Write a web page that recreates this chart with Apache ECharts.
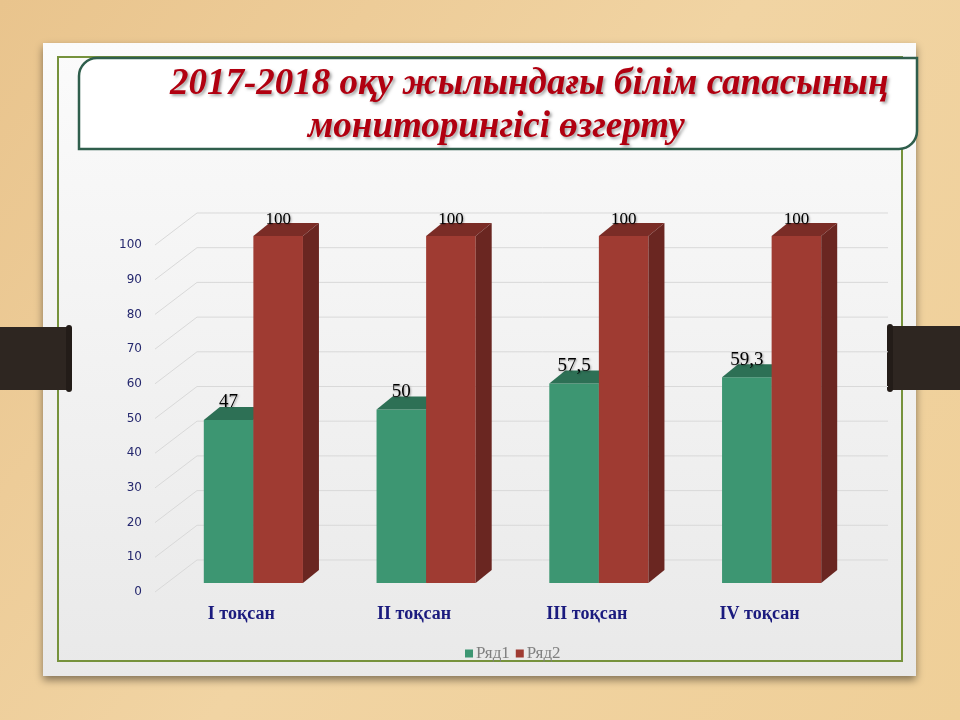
<!DOCTYPE html>
<html>
<head>
<meta charset="utf-8">
<style>
  html, body { margin: 0; padding: 0; }
  #chart { width: 960px; height: 720px; }
</style>
<script src="https://cdn.jsdelivr.net/npm/echarts@6/dist/echarts.min.js"></script>
</head>
<body>
<div id="chart"></div>
<script>
// data
var categories = ['I тоқсан', 'II тоқсан', 'III тоқсан', 'IV тоқсан'];
var seriesNames = ['Ряд1', 'Ряд2'];
var row1 = [47, 50, 57.5, 59.3];
var row2 = [100, 100, 100, 100];
var yTicks = [0, 10, 20, 30, 40, 50, 60, 70, 80, 90, 100];
var titleLines = ['2017-2018 оқу жылындағы білім сапасының', 'мониторингісі өзгерту'];

// 3d look
var wallDX = 42, wallDY = -32;   // back wall offset from front plane
var barDX = 12, barDY = -9;      // bars sit a bit behind the front plane
var depthX = 16, depthY = -13;   // bar depth
var colors = [
    { front: '#3D9672', top: '#2D7055', side: '#2A6A50', label: 19 },
    { front: '#9F3B32', top: '#7A2C26', side: '#6A2621', label: 17 }
];

function fmt(v) {
    return String(v).replace('.', ',');
}

function barRenderer(idx) {
    return function(params, api) {
        var cat = api.value(0), val = api.value(1);
        var band = api.size([1, 0])[0];
        var w = band * 0.287;
        var base = api.coord([cat, 0]);
        var top = api.coord([cat, val]);
        var x0 = base[0] + barDX - w + idx * w;
        var yb = base[1] + barDY;
        var yt = top[1] + barDY;
        var c = colors[idx];
        return {
            type: 'group',
            children: [
                { type: 'rect', shape: { x: x0, y: yt, width: w, height: yb - yt }, style: { fill: c.front } },
                { type: 'polygon', shape: { points: [[x0, yt], [x0 + w, yt], [x0 + w + depthX, yt + depthY], [x0 + depthX, yt + depthY]] }, style: { fill: c.top } },
                { type: 'polygon', shape: { points: [[x0 + w, yt], [x0 + w + depthX, yt + depthY], [x0 + w + depthX, yb + depthY], [x0 + w, yb]] }, style: { fill: c.side } },
                {
                    type: 'text', z2: 10,
                    style: {
                        x: x0 + w / 2, y: yt - 8, text: fmt(val),
                        align: 'center', verticalAlign: 'bottom',
                        font: c.label + 'px "Liberation Serif"', fill: '#000',
                        textShadowColor: 'rgba(0,0,0,0.35)', textShadowBlur: 2, textShadowOffsetX: 1, textShadowOffsetY: 1
                    }
                }
            ]
        };
    };
}

function gridRenderer(params, api) {
    var cs = params.coordSys;
    var y = api.coord([0, api.value(1)])[1];
    return {
        type: 'polyline',
        shape: { points: [[cs.x, y], [cs.x + wallDX, y + wallDY], [cs.x + cs.width + wallDX, y + wallDY]] },
        style: { stroke: '#D9D9D9', lineWidth: 1, fill: 'none' },
        silent: true
    };
}

function pairs(arr) {
    return arr.map(function(v, i) { return [i, v]; });
}

var chart = echarts.init(document.getElementById('chart'));

var titleStyle = {
    align: 'left', verticalAlign: 'middle',
    font: 'italic bold 37px "Liberation Serif"', fill: '#B10010',
    textShadowColor: 'rgba(0,0,0,0.35)', textShadowBlur: 3, textShadowOffsetX: 2, textShadowOffsetY: 2
};

var option = {
    backgroundColor: {
        type: 'linear', x: 0, y: 0, x2: 1, y2: 1,
        colorStops: [
            { offset: 0, color: '#E9C48D' },
            { offset: 0.5, color: '#F1D4A3' },
            { offset: 1, color: '#EFCF98' }
        ]
    },
    graphic: [
        // binder clips
        { type: 'rect', shape: { x: 0, y: 327, width: 70, height: 63 }, style: { fill: '#2E2621' }, z: 1 },
        { type: 'rect', shape: { x: 66, y: 325, width: 6, height: 67, r: 3 }, style: { fill: '#231C18' }, z: 1 },
        { type: 'rect', shape: { x: 890, y: 326, width: 70, height: 64 }, style: { fill: '#2E2621' }, z: 1 },
        { type: 'rect', shape: { x: 887, y: 324, width: 6, height: 68, r: 3 }, style: { fill: '#231C18' }, z: 1 },
        // card
        {
            type: 'rect', z: 0,
            shape: { x: 43, y: 43, width: 873, height: 633 },
            style: {
                fill: { type: 'linear', x: 0, y: 0, x2: 0, y2: 1, colorStops: [{ offset: 0, color: '#FBFBFB' }, { offset: 1, color: '#E9E9E9' }] },
                shadowBlur: 8, shadowOffsetY: 4, shadowColor: 'rgba(0,0,0,0.45)'
            }
        },
        { type: 'rect', z: 0, shape: { x: 58, y: 57, width: 844, height: 604 }, style: { fill: 'none', stroke: '#76923C', lineWidth: 2 } },
        // title box
        { type: 'rect', z: 1, shape: { x: 79, y: 58, width: 838, height: 91, r: [18, 0, 18, 0] }, style: { fill: '#FFFFFF', stroke: '#2F5E4C', lineWidth: 2.5 } },
        { type: 'text', z: 2, style: Object.assign({ x: 170, y: 84, text: titleLines[0] }, titleStyle) },
        { type: 'text', z: 2, style: Object.assign({ x: 308, y: 127, text: titleLines[1] }, titleStyle) }
    ],
    legend: {
        data: seriesNames,
        top: 640,
        left: 460,
        icon: 'rect',
        itemWidth: 8,
        itemHeight: 8,
        itemGap: 6,
        textStyle: { color: '#7F7F7F', fontFamily: 'Liberation Serif', fontSize: 17, padding: [0, 0, 0, -2] }
    },
    grid: { left: 155, right: 114, top: 245, bottom: 128 },
    xAxis: {
        type: 'category',
        data: categories,
        axisLine: { show: false },
        axisTick: { show: false },
        axisLabel: { color: '#1B1B7E', fontFamily: 'Liberation Serif', fontWeight: 'bold', fontSize: 18, margin: 13 }
    },
    yAxis: {
        type: 'value',
        min: 0,
        max: 100,
        interval: 10,
        axisLine: { show: false },
        axisTick: { show: false },
        splitLine: { show: false },
        axisLabel: { color: '#25286E', fontFamily: 'DejaVu Sans', fontSize: 12, margin: 13 }
    },
    series: [
        {
            type: 'custom', name: 'grid', silent: true, z: 1,
            renderItem: gridRenderer,
            data: yTicks.map(function(v) { return [0, v]; })
        },
        {
            type: 'custom', name: seriesNames[0], z: 2,
            itemStyle: { color: colors[0].front },
            renderItem: barRenderer(0),
            data: pairs(row1)
        },
        {
            type: 'custom', name: seriesNames[1], z: 3,
            itemStyle: { color: colors[1].front },
            renderItem: barRenderer(1),
            data: pairs(row2)
        }
    ]
};

chart.setOption(option);
</script>
</body>
</html>
